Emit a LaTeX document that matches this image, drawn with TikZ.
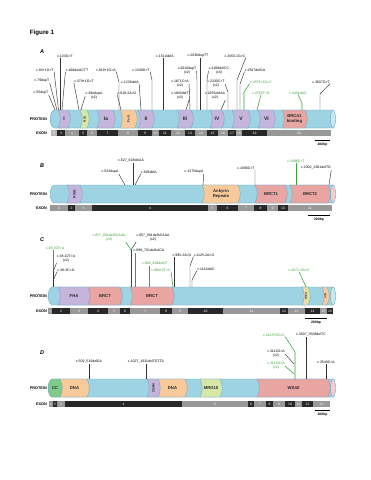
\documentclass[tikz,border=0pt]{standalone}
\usepackage{fontspec}
\setmainfont{Liberation Sans}
\usetikzlibrary{positioning}

\definecolor{barblue}{HTML}{9DD3E3}
\definecolor{barline}{HTML}{6AA9C2}
\definecolor{dompurple}{HTML}{C5B4DB}
\definecolor{domorange}{HTML}{F7C99B}
\definecolor{dompink}{HTML}{E8A5A2}
\definecolor{domlime}{HTML}{D6E7A8}
\definecolor{domgreen}{HTML}{7FCB8C}
\definecolor{domkhaki}{HTML}{E6DCA8}
\definecolor{mutgreen}{HTML}{3AA03A}
\definecolor{exg}{HTML}{989898}
\definecolor{exb}{HTML}{282828}

\tikzset{
  mut/.style={font=\fontsize{3.5}{3.9}\selectfont, inner sep=0.2pt, align=center},
  gmut/.style={mut, text=mutgreen},
  ln/.style={draw=black!80, line width=0.45pt},
  gln/.style={draw=mutgreen, line width=0.55pt},
  dlbl/.style={font=\fontsize{4.2}{4.6}\selectfont\bfseries, inner sep=0pt, align=center, text=black!85},
  rowlbl/.style={font=\fontsize{3.8}{4}\selectfont\bfseries, anchor=east, inner sep=0pt},
  extxt/.style={font=\fontsize{3.4}{3.6}\selectfont, text=white, inner sep=0pt},
  panel/.style={font=\fontsize{5.5}{6}\selectfont\bfseries\itshape, inner sep=0pt},
  sbar/.style={line width=1pt},
  bplbl/.style={font=\fontsize{3.4}{3.8}\selectfont\bfseries, inner sep=0pt},
}

% gene bar: y mid, left x, cap fill
\newcommand\genebar[3]{%
  \filldraw[fill=barblue, draw=barline, line width=0.4pt] ({#2+4},{#1-9}) -- (333,{#1-9}) -- (333,{#1+9}) -- ({#2+4},{#1+9}) .. controls ({#2-1},{#1+7}) and ({#2-1},{#1-7}) .. ({#2+4},{#1-9}) -- cycle;
  \filldraw[fill=#3, draw=barline, line width=0.4pt] (333,#1) ellipse (2.5 and 9);}

% domain: name, x1, x2, y mid, fill, node options, text
\newcommand\domain[7]{%
  \filldraw[fill=#5, draw=barline, line width=0.35pt] (#2,{#4-9}) -- (#3,{#4-9}) .. controls ({#3+3},{#4-4}) and ({#3+3},{#4+4}) .. (#3,{#4+9}) -- (#2,{#4+9}) .. controls ({#2+3},{#4+4}) and ({#2+3},{#4-4}) .. (#2,{#4-9}) -- cycle;
  \node[dlbl,#6] (#1) at ({(#2+#3)/2+1},#4) {#7};}

% exon row: prefix, top y, bottom y, list x1/x2/colour/number
\newcommand\exons[4]{%
  \foreach \a/\b/\cl/\n in {#4} {
    \fill[\cl] (\a,#2) rectangle (\b,#3);
    \node[extxt] (#1\n) at ({(\a+\b)/2},{(#2+#3)/2}) {\n};
  }}

\begin{document}
\begin{tikzpicture}[x=1pt,y=-1pt]
  \fill[white] (0,0) rectangle (371,480);
  \useasboundingbox (0,0) rectangle (371,480);

  \node[font=\fontsize{6.2}{7}\selectfont\bfseries, inner sep=0pt] (fig) at (42,33) {Figure 1};

  %% A
  \node[panel] (pA) at (42,52) {A};
  \genebar{119}{50}{barblue!55!white}
  \domain{dI}{58}{68}{119}{dompurple}{font=\fontsize{5}{5}\selectfont\bfseries}{I}
  \domain{dNLS}{80}{87}{119}{domlime}{rotate=90, font=\fontsize{3}{3}\selectfont\bfseries}{NLS}
  \domain{dIa}{97}{113}{119}{dompurple}{font=\fontsize{5}{5}\selectfont\bfseries}{Ia}
  \domain{dFeS}{120}{135}{119}{domorange}{rotate=90, font=\fontsize{3.2}{3.2}\selectfont\bfseries}{Fe-S}
  \domain{dII}{138}{152}{119}{dompurple}{font=\fontsize{5}{5}\selectfont\bfseries}{II}
  \domain{dIII}{177}{191}{119}{dompurple}{font=\fontsize{5}{5}\selectfont\bfseries}{III}
  \domain{dIV}{210}{222}{119}{dompurple}{font=\fontsize{5}{5}\selectfont\bfseries}{IV}
  \domain{dV}{232}{248}{119}{dompurple}{font=\fontsize{5}{5}\selectfont\bfseries}{V}
  \domain{dVI}{258}{273}{119}{dompurple}{font=\fontsize{5}{5}\selectfont\bfseries}{VI}
  \domain{dBRCA}{282}{305}{119}{dompink}{}{BRCA1\\binding}
  \node[rowlbl] (protA) at (47,119) {PROTEIN};
  \node[rowlbl] (exA) at (47,133) {EXON};
  \exons{eA}{130}{136}{51/57/exg!70!white/2, 57/65/exb/3, 65/79/exg/4, 79/87/exb/5, 87/97/exg/6, 97/118/exb/7,
    118/138/exg/8, 138/152/exb/9, 152/159/exg/10, 159/171/exb/11, 171/185/exg/12, 185/195/exb/13,
    195/207/exg/14, 207/218/exb/15, 218/228/exg/16, 228/236/exb/17, 236/242/exg/18, 242/267/exb/19, 267/331/exg/20}
  \coordinate (sA1) at (315,140); \coordinate (sA2) at (330,140);
  \draw[sbar] (sA1) -- (sA2);
  \node[bplbl] (bpA) at (322.5,145) {200bp};

  \node[mut] (a55) at (41,93) {c.55dupT};
  \coordinate (a55e) at (55,110); \draw[ln] (a55.south east) -- (a55e);
  \node[mut] (a79) at (42,81) {c.79dupT};
  \coordinate (a79e) at (57,110); \draw[ln] (a79.south east) -- (a79e);
  \node[mut] (a93) at (45,70) {c.93+1G>T};
  \coordinate (a93e) at (58.5,110); \draw[ln] (a93.south east) -- (a93e);
  \node[mut] (a133) at (65,56) {c.133G>T};
  \coordinate (a133e) at (60,110); \draw[ln] (a133.south -| a133e) -- (a133e);
  \node[mut] (a168) at (77,70) {c.168delACTT};
  \coordinate (a168e) at (62,110); \draw[ln] (a168.south west) -- (a168e);
  \node[mut] (a379) at (84,81) {c.379+1G>T};
  \coordinate (a379e) at (79,110); \draw[ln] (a379.south west) -- (a379e);
  \node[mut] (a394) at (94,96) {c.394dupA\\(x2)};
  \coordinate (a394e) at (81,110); \draw[ln] (a394.west) -- (a394e);
  \node[mut] (a918p) at (106,70) {c.918+1G>A};
  \coordinate (a918pe) at (119,110); \draw[ln] (a918p.south east) -- (119,82) -- (a918pe);
  \node[mut] (a1236) at (130,82) {c.1236delA};
  \coordinate (a1236e) at (141,110); \draw[ln] (a1236.south east) -- (a1236e);
  \node[mut] (a918m) at (127,93) {c.918-2A>G};
  \coordinate (a918me) at (121,110); \draw[ln] (a918m.south west) -- (a918me);
  \node[mut] (a1348) at (141,70) {c.1348G>T};
  \coordinate (a1348e) at (152,110); \draw[ln] (a1348.south east) -- (152,80) -- (a1348e);
  \node[mut] (a1510) at (165,56) {c.1510delA};
  \coordinate (a1510e) at (163,110); \draw[ln] (a1510.south -| a1510e) -- (a1510e);
  \node[mut] (a1845) at (180,96) {c.1845delT\\(x2)};
  \coordinate (a1845e) at (186,110); \draw[ln] (a1845.south east) -- (a1845e);
  \node[mut] (a1871) at (180,84) {c.1871C>A\\(x2)};
  \coordinate (a1871e) at (190,110); \draw[ln] (a1871.east) -- (a1871e);
  \node[mut] (a2010) at (187,71) {c.2010dupT\\(x2)};
  \coordinate (a2010e) at (197,110); \draw[ln] (a2010.east) -- (197,80) -- (a2010e);
  \node[mut] (a2038) at (198,56) {c.2038dupTT};
  \coordinate (a2038e) at (200.5,110); \draw[ln] (a2038.south -| a2038e) -- (a2038e);
  \node[mut] (a2108) at (219,71) {c.2108delCC\\(x3)};
  \coordinate (a2108e) at (207,110); \draw[ln] (a2108.west) -- (207,80) -- (a2108e);
  \node[mut] (a2330) at (216,84) {c.2330C>T\\(x2)};
  \coordinate (a2330e) at (228,110); \draw[ln] (a2330.east) -- (228,92) -- (a2330e);
  \node[mut] (a2255) at (215,96) {c.2255delAA\\(x2)};
  \coordinate (a2255e) at (221,110); \draw[ln] (a2255.south east) -- (a2255e);
  \node[mut] (a2450) at (235,56) {c.2450-1G>C};
  \coordinate (a2450e) at (237,110); \draw[ln] (a2450.south east) -- (237,80) -- (a2450e);
  \node[mut] (a2507) at (255,70) {c.2507delGA};
  \coordinate (a2507e) at (240,110); \draw[ln] (a2507.south west) -- (240,84) -- (a2507e);
  \node[gmut] (a2575) at (261,82) {c.2575+1G>C};
  \coordinate (a2575e) at (244,110); \draw[gln] (a2575.south west) -- (244,92) -- (a2575e);
  \node[gmut] (a2765) at (261,93) {c.2765T>G};
  \coordinate (a2765e) at (257,110); \draw[gln] (a2765.south) -- (a2765e);
  \node[gmut] (a3401) at (298,93) {c.3401delC};
  \coordinate (a3401e) at (302,110); \draw[gln] (a3401.south) -- (302,103) -- (a3401e);
  \node[mut] (a3607) at (321,82) {c.3607G>T};
  \coordinate (a3607e) at (320,110); \draw[ln] (a3607.south east) -- (320,94) -- (a3607e);

  %% B
  \node[panel] (pB) at (42,166) {B};
  \genebar{194}{50}{dompink!55!white}
  \domain{dRING}{67}{80}{194}{dompurple}{rotate=90, font=\fontsize{3.4}{3.4}\selectfont\bfseries}{RING}
  \domain{dAnk}{202}{238}{194}{domorange}{}{Ankyrin\\Repeats}
  \domain{dBRCTa}{255}{285}{194}{dompink}{}{BRCT1}
  \domain{dBRCTb}{290}{328}{194}{dompink}{}{BRCT2}
  \node[rowlbl] (protB) at (47,194) {PROTEIN};
  \node[rowlbl] (exB) at (47,208) {EXON};
  \exons{eB}{205}{211}{50/68/exg/1, 68/75/exb/2, 75/92/exg/3, 92/208/exb/4, 208/217/exg/5, 217/238/exb/6,
    238/254/exg/7, 254/267/exb/8, 267/278/exg/9, 278/288/exb/10, 288/332/exg/11}
  \coordinate (sB1) at (308,215); \coordinate (sB2) at (330,215);
  \draw[sbar] (sB1) -- (sB2);
  \node[bplbl] (bpB) at (319,220) {200bp};

  \node[mut] (b627) at (131,161) {c.627\_628delAA};
  \coordinate (b627e) at (133,185); \draw[ln] (b627.south -| b627e) -- (b627e);
  \node[mut] (b523) at (110,172) {c.523dupA};
  \coordinate (b523e) at (125,185); \draw[ln] (b523.south east) -- (b523e);
  \node[mut] (b696) at (149,172) {c.696delA};
  \coordinate (b696e) at (135,185); \draw[ln] (b696.south west) -- (b696e);
  \node[mut] (b1275) at (194,172) {c.1275dupA};
  \coordinate (b1275e) at (203,185); \draw[ln] (b1275.south east) -- (b1275e);
  \node[mut] (b1690) at (246,168) {c.1690C>T};
  \coordinate (b1690e) at (255,185); \draw[ln] (b1690.south east) -- (b1690e);
  \node[gmut] (b1996) at (296,161) {c.1996C>T};
  \coordinate (b1996e) at (296,185); \draw[gln] (b1996.south) -- (b1996e);
  \node[mut] (b2300) at (316,168) {c.2300\_2301delTG};
  \coordinate (b2300e) at (329,185); \draw[ln] (b2300.south east) -- (b2300e);

  %% C
  \node[panel] (pC) at (42,240) {C};
  \genebar{296}{48}{barblue!55!white}
  \domain{dFHA}{58}{88}{296}{dompurple}{}{FHA}
  \domain{dBRCTc}{88}{120}{296}{dompink}{}{BRCT}
  \domain{dBRCTd}{130}{172}{296}{dompink}{}{BRCT}
  \domain{dMRE}{302}{308}{296}{domkhaki}{rotate=90, font=\fontsize{2.4}{2.4}\selectfont\bfseries}{MRE11}
  \domain{dATM}{322}{327}{296}{domorange}{rotate=90, font=\fontsize{2.4}{2.4}\selectfont\bfseries}{ATM}
  \node[rowlbl] (protC) at (47,296) {PROTEIN};
  \node[rowlbl] (exC) at (47,311) {EXON};
  \exons{eC}{308}{314}{48/52/exg/1, 52/70/exb/2, 70/88/exg/3, 88/108/exb/4, 108/120/exg/5, 120/130/exb/6,
    130/160/exg/7, 160/172/exb/8, 172/188/exg/9, 188/223/exb/10, 223/280/exg/11, 280/288/exb/12,
    288/305/exg/13, 305/320/exb/14, 320/327/exg/15, 327/333/exb/16}
  \coordinate (sC1) at (305,318); \coordinate (sC2) at (327,318);
  \draw[sbar] (sC1) -- (sC2);
  \node[bplbl] (bpC) at (316,323) {200bp};

  \node[gmut] (c657g) at (109,238) {c.657\_661delACAAA\\(x4)};
  \node[mut] (c657) at (153,238) {c.657\_661delACAAA\\(x2)};
  \coordinate (cY) at (131,250); \coordinate (cYe) at (131,287);
  \draw[gln] (c657g.south east) -- (cY);
  \draw[ln] (c657.south west) -- (cY);
  \draw[line width=0.7pt, draw=mutgreen!55!black] (cY) -- (cYe);
  \node[mut] (c698) at (149,251) {c.698\_701delAACA};
  \coordinate (c698e) at (135,287); \draw[ln, draw=black!55] (c698.south -| c698e) -- (c698e);
  \node[gmut] (c838) at (155,264) {c.838\_839delGT};
  \coordinate (c838e) at (149,287); \draw[gln] (c838.south -| c838e) -- (c838e);
  \node[gmut] (c984) at (161,270) {c.984+2T>C};
  \coordinate (c984e) at (173,287); \draw[gln] (c984.south east) -- (c984e);
  \node[mut] (c995) at (182,255) {c.995-2A>G};
  \coordinate (c995e) at (174,287); \draw[ln] (c995.south -| c995e) -- (c995e);
  \node[mut] (c1125) at (204,255) {c.1125-2A>G};
  \coordinate (c1125e) at (190,287); \draw[ln] (c1125.south west) -- (190,266) -- (c1125e);
  \node[mut] (c1142) at (206,269) {c.1142delC};
  \coordinate (c1142e) at (192,287); \draw[ln] (c1142.south west) -- (192,280) -- (c1142e);
  \node[gmut] (c38g) at (55,248) {c.38-10T>A};
  \coordinate (c38ge) at (53,287); \draw[gln] (c38g.south -| c38ge) -- (c38ge);
  \node[mut] (c38) at (66,259) {c.38-10T>A\\(x2)};
  \coordinate (c38e) at (53,272); \draw[ln] (c38.south west) -- (c38e);
  \node[mut] (c38m) at (66,270) {c.38-3C>G};
  \coordinate (c38me) at (53,281); \draw[ln] (c38m.south west) -- (c38me);
  \draw[ln] (c38e) -- (c38ge);
  \node[gmut] (c2071) at (299,270) {c.2071-1G>C};
  \coordinate (c2071e) at (306,287); \draw[gln] (c2071.south) -- (c2071e);

  %% D
  \node[panel] (pD) at (42,353) {D};
  \genebar{388}{48}{dompink!55!white}
  \filldraw[fill=domgreen, draw=barline, line width=0.35pt] (52,379) -- (60,379) .. controls (63,384) and (63,392) .. (60,397) -- (52,397) .. controls (47,395) and (47,381) .. (52,379) -- cycle;
  \node[dlbl] (dCC) at (55,388) {CC};
  \domain{dDNAa}{60}{87}{388}{domorange}{}{DNA}
  \domain{dChAM}{147}{158}{388}{dompurple}{rotate=90, font=\fontsize{3.2}{3.2}\selectfont\bfseries}{ChAM}
  \domain{dDNAb}{158}{185}{388}{domorange}{}{DNA}
  \domain{dMRG}{200}{220}{388}{domlime}{}{MRG15}
  \domain{dWD}{257}{328}{388}{dompink}{}{WD40}
  \node[rowlbl] (protD) at (47,388) {PROTEIN};
  \node[rowlbl] (exD) at (47,404) {EXON};
  \exons{eD}{401}{407}{49/53/exg/1, 53/57/exb/2, 57/65/exg/3, 65/182/exb/4, 182/248/exg/5, 248/254/exb/6,
    254/266/exg/7, 266/273/exb/8, 273/285/exg/9, 285/295/exb/10, 295/302/exg/11, 302/313/exb/12, 313/330/exg/13}
  \coordinate (sD1) at (315,410); \coordinate (sD2) at (330,410);
  \draw[sbar] (sD1) -- (sD2);
  \node[bplbl] (bpD) at (322.5,415) {200bp};

  \node[mut] (d509) at (89,362) {c.509\_510delGA};
  \coordinate (d509e) at (89,379); \draw[ln] (d509.south -| d509e) -- (d509e);
  \node[mut] (d1027) at (146,362) {c.1027\_1031delTGTTA};
  \coordinate (d1027e) at (146,379); \draw[ln] (d1027.south -| d1027e) -- (d1027e);
  \node[gmut] (d3113g) at (274,335) {c.3113+5G>C};
  \coordinate (d3113ge) at (295,379); \draw[gln] (d3113g.south east) -- (295,352) -- (d3113ge);
  \node[mut] (d3113) at (276,354) {c.3113G>A\\(x2)};
  \coordinate (d3113e) at (294,364); \draw[ln] (d3113.east) -- (d3113e);
  \node[gmut] (d3113b) at (276,366) {c.3113G>A\\(x2)};
  \coordinate (d3113be) at (294,374); \draw[gln] (d3113b.east) -- (d3113be);
  \node[mut] (d3507) at (311,335) {c.3507\_3508delTC};
  \coordinate (d3507e) at (306,379); \draw[ln] (d3507.south -| d3507e) -- (d3507e);
  \node[mut] (d3549) at (326,362) {c.3549C>A};
  \coordinate (d3549e) at (326,379); \draw[ln] (d3549.south -| d3549e) -- (d3549e);
\end{tikzpicture}
\end{document}
